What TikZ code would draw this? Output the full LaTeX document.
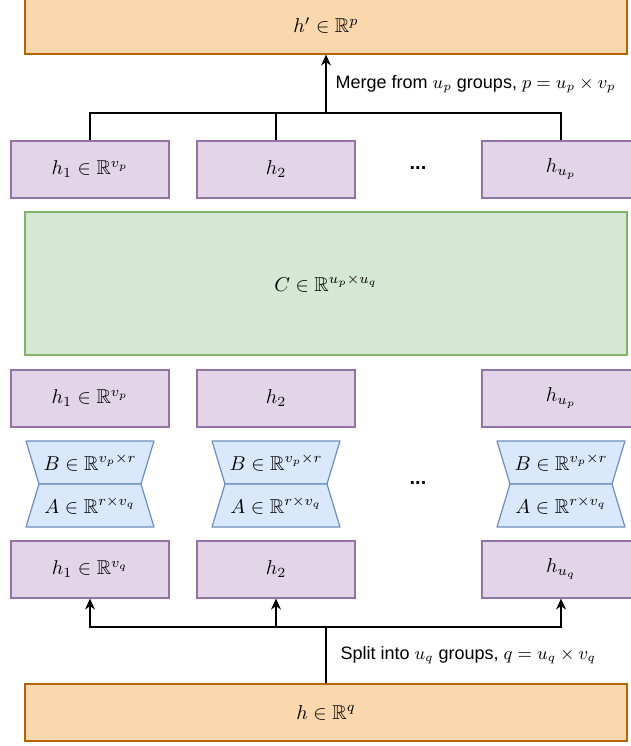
\documentclass[tikz,border=0pt]{standalone}
\usepackage{amsmath,amssymb}
\usepackage{fontspec}
\usetikzlibrary{arrows.meta}
\newfontfamily\labelfont{Liberation Sans}
\definecolor{vecfill}{HTML}{FAD7AC}
\definecolor{vecline}{HTML}{B46504}
\definecolor{grpfill}{HTML}{E1D5E7}
\definecolor{grpline}{HTML}{9673A6}
\definecolor{mixfill}{HTML}{D5E8D4}
\definecolor{mixline}{HTML}{82B366}
\definecolor{lrfill}{HTML}{DAE8FC}
\definecolor{lrline}{HTML}{6C8EBF}
\tikzset{
  vecbox/.style={draw=vecline,fill=vecfill,line width=0.6pt,minimum width=301pt,minimum height=28.5pt,inner sep=0pt},
  grpbox/.style={draw=grpline,fill=grpfill,line width=0.6pt,minimum width=79pt,minimum height=28.5pt,inner sep=0pt},
  mixbox/.style={draw=mixline,fill=mixfill,line width=0.6pt,minimum width=301pt,minimum height=71.5pt,inner sep=0pt},
  lrshape/.style={draw=lrline,fill=lrfill,line width=0.6pt,line join=round},
  conn/.style={line width=0.6pt},
  tip/.style={-{Stealth[length=5.5pt,width=5pt]}},
  grplabel/.style={font=\labelfont\fontsize{9}{11}\selectfont,anchor=west,inner sep=0pt},
  dots/.style={font=\labelfont\bfseries\fontsize{10}{12}\selectfont}
}
\begin{document}
\begin{tikzpicture}[x=0.5pt,y=-0.5pt]
  \useasboundingbox (0,0) rectangle (631,746);
  \clip (0,0) rectangle (631,746);
  % output and input vectors
  \node[vecbox] (hout) at (326,25.5) {$h' \in \mathbb{R}^p$};
  \node[vecbox] (hin) at (326,712.5) {$h \in \mathbb{R}^q$};
  % mixing matrix
  \node[mixbox] (mix) at (326,283.5) {$C \in \mathbb{R}^{u_p \times u_q}$};
  % groups, columns 1, 2 and u
  \foreach \x/\n/\ltop/\lbot in {90/1/{h_1 \in \mathbb{R}^{v_p}}/{h_1 \in \mathbb{R}^{v_q}},
                                  276/2/{h_2}/{h_2},
                                  561/3/{h_{u_p}}/{h_{u_q}}} {
    \node[grpbox] (top\n) at (\x,169.5) {$\ltop$};
    \node[grpbox] (mid\n) at (\x,398.5) {$\ltop$};
    \draw[lrshape] ({\x-64},441) -- ({\x+64},441) -- ({\x+51},484) -- ({\x-51},484) -- cycle;
    \draw[lrshape] ({\x-51},484) -- ({\x+51},484) -- ({\x+64},527) -- ({\x-64},527) -- cycle;
    \node (B\n) at (\x,462.5) {$B \in \mathbb{R}^{v_p \times r}$};
    \node (A\n) at (\x,505.5) {$A \in \mathbb{R}^{r \times v_q}$};
    \node[grpbox] (bot\n) at (\x,569.5) {$\lbot$};
  }
  \node[dots] (dotstop) at (418,168) {...};
  \node[dots] (dotsmid) at (418,483) {...};
  % merge
  \coordinate (mj) at (326,113);
  \foreach \n in {1,2,3} \draw[conn] (top\n.north) |- (mj);
  \draw[conn,tip] (mj) -- (hout.south)
    node[grplabel,pos=0.5,xshift=4.5pt] {Merge from $u_p$ groups, $p = u_p \times v_p$};
  % split
  \coordinate (sj) at (326,627);
  \draw[conn] (hin.north) -- (sj)
    node[grplabel,pos=0.5,xshift=7pt] {Split into $u_q$ groups, $q = u_q \times v_q$};
  \foreach \n in {1,2,3} \draw[conn,tip] (sj) -| (bot\n.south);
\end{tikzpicture}
\end{document}
